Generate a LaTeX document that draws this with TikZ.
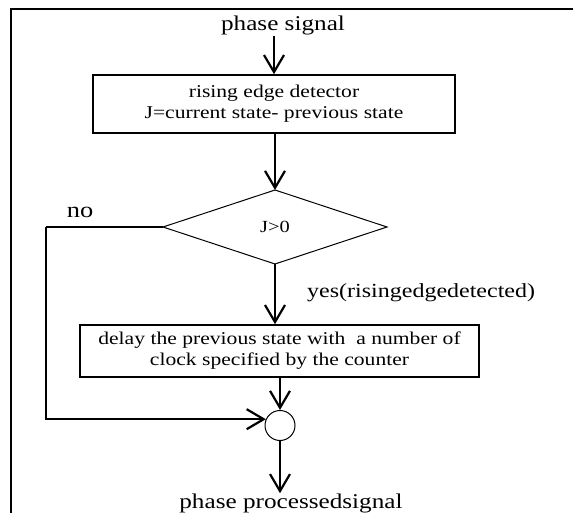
\documentclass[tikz,border=0pt]{standalone}
\usepackage{fontspec}
\setmainfont{Liberation Serif}[FakeStretch=1.2]
\usetikzlibrary{shapes.geometric,arrows.meta}
\newcommand{\boxlines}[2]{\raisebox{-3pt}{\begin{tabular}{@{}c@{}}#1\\#2\end{tabular}}}
\tikzset{
  conn/.style={line width=2pt},
  arr/.style={conn,-{Straight Barb[length=17pt,width=20pt,line width=2.2pt]}},
  procbox/.style={draw,line width=1.6pt,inner sep=0pt,align=center,font=\fontsize{18}{21}\selectfont},
  decision/.style={draw,diamond,line width=1pt,inner sep=0pt,outer sep=0pt,font=\fontsize{17}{20}\selectfont},
  joint/.style={draw,circle,line width=1pt,inner sep=0pt,minimum size=30pt},
  lbl/.style={inner sep=0pt,font=\fontsize{21}{24}\selectfont},
  frame/.style={line width=2.4pt}
}
\begin{document}
\begin{tikzpicture}[x=1pt,y=-1pt]
\useasboundingbox (0,0) rectangle (573,513);
% frame
\draw[frame] (11,513) -- (11,9) -- (573,9);
% nodes
\node[lbl,anchor=base] (ps) at (283,31) {phase signal};
\node[procbox,minimum width=362pt,minimum height=58pt] (b1) at (274,104) {\boxlines{rising edge detector}{J=current state- previous state}};
\node[decision,minimum width=224pt,minimum height=74pt] (d) at (275,227) {J>0};
\node[lbl] (no) at (80,212) {\fontsize{22}{24}\selectfont no};
\node[lbl,anchor=west] (yes) at (307,293) {\fontsize{20}{24}\selectfont yes(risingedgedetected)};
\node[procbox,minimum width=399pt,minimum height=52pt] (b2) at (279.5,351) {\boxlines{delay the previous state with \ a number of}{clock specified by the counter}};
\node[joint] (c) at (280,425.5) {};
\node[lbl,anchor=base] (out) at (291,508) {phase processedsignal};
\coordinate (nc) at (46,227);
% connectors
\draw[arr] (ps.south -| b1.north) -- (b1.north);
\draw[arr] (b1.south -| d.north) -- (d.north);
\draw[arr] (d.south) -- (d.south |- b2.north);
\draw[arr] (b2.south -| c.north) -- (c.north);
\draw[arr] (c.south) -- (out.north -| c.south);
\draw[conn] (d.west) -- (nc);
\draw[arr] (nc) |- (c.156);
\end{tikzpicture}
\end{document}
